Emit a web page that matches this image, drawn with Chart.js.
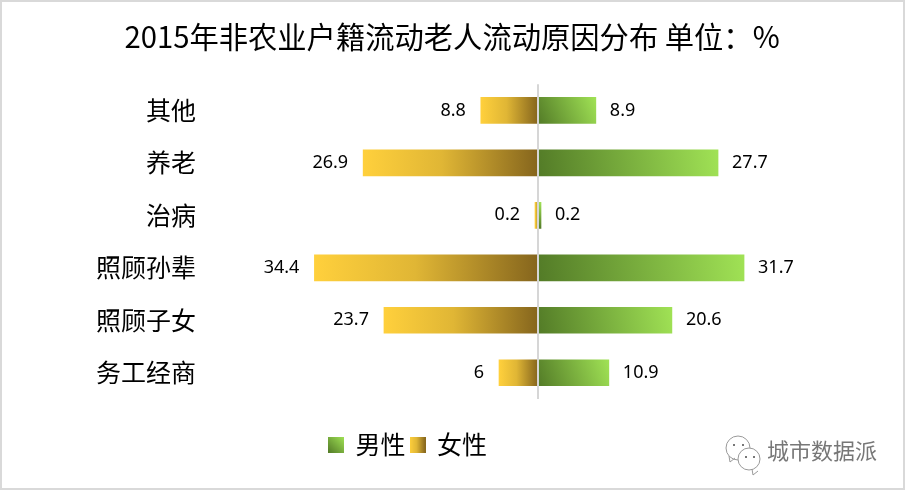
<!DOCTYPE html>
<html>
<head>
<meta charset="utf-8">
<script src="https://cdn.jsdelivr.net/npm/chart.js@4"></script>
<style>
  html, body { margin: 0; padding: 0; background: #fff; }
  canvas { display: block; }
</style>
</head>
<body>
<canvas id="chart" width="905" height="490"></canvas>
<script>
const categories = ["其他", "养老", "治病", "照顾孙辈", "照顾子女", "务工经商"];
const maleValues = [8.9, 27.7, 0.2, 31.7, 20.6, 10.9];
const femaleValues = [8.8, 26.9, 0.2, 34.4, 23.7, 6];
const seriesNames = ["男性", "女性"];
const titleText = "2015年非农业户籍流动老人流动原因分布 单位：%";
const watermarkText = "城市数据派";

const CJK = '"Noto Sans CJK SC", sans-serif';

function maleGradient(ctx, x0, y0, x1, y1) {
  const g = ctx.createLinearGradient(x0, y0, x1, y1);
  g.addColorStop(0, "#537b27");
  g.addColorStop(1, "#a0e255");
  return g;
}

function femaleGradient(ctx, x0, x1) {
  const g = ctx.createLinearGradient(x0, 0, x1, 0);
  g.addColorStop(0, "#ffd03c");
  g.addColorStop(0.45, "#e0b635");
  g.addColorStop(1, "#85651d");
  return g;
}

// legend swatches, drawn once on their own little canvases
function swatch(kind) {
  const c = document.createElement("canvas");
  c.width = 16;
  c.height = 16;
  const x = c.getContext("2d");
  x.fillStyle = kind === "male" ? maleGradient(x, 0, 16, 16, 0) : femaleGradient(x, 0, 16);
  x.fillRect(0, 0, 16, 16);
  return c;
}

function barFill(kind) {
  return function (c) {
    const fallback = kind === "male" ? "#a0e255" : "#ffd03c";
    if (c.type !== "data" || !c.chart.chartArea) return fallback;
    const { ctx, scales } = c.chart;
    const zero = scales.x.getPixelForValue(0);
    const end = scales.x.getPixelForValue(c.raw);
    const mid = scales.y.getPixelForValue(c.dataIndex);
    if (![zero, end, mid].every(Number.isFinite)) return fallback;
    if (kind === "male") return maleGradient(ctx, zero, mid + 13, Math.max(end, zero + 3), mid - 13);
    return femaleGradient(ctx, Math.min(end, zero - 3), zero);
  };
}

const pageFrame = {
  id: "pageFrame",
  beforeDraw(chart) {
    const { ctx, width, height } = chart;
    ctx.save();
    ctx.fillStyle = "#fff";
    ctx.fillRect(0, 0, width, height);
    ctx.strokeStyle = "#d9d9d9";
    ctx.lineWidth = 2;
    ctx.strokeRect(1, 1, width - 2, height - 2);
    ctx.restore();
  }
};

// title is centred on the page, the legend sits left of centre in the original
const blockShift = {
  id: "blockShift",
  afterLayout(chart) {
    const lg = chart.legend;
    lg.left -= 30;
    lg.right -= 30;
    lg.top += 28;
    lg.bottom += 28;
    chart.titleBlock.left += 14;
    chart.titleBlock.right += 14;
  }
};

// value labels outside the bar ends, always shown as positive numbers
const barValues = {
  id: "barValues",
  afterDatasetsDraw(chart) {
    const { ctx } = chart;
    ctx.save();
    ctx.font = '18px "Noto Sans", sans-serif';
    ctx.fillStyle = "#000";
    ctx.textBaseline = "middle";
    chart.getDatasetMeta(0).data.forEach((bar, i) => {
      ctx.textAlign = "left";
      ctx.fillText(String(maleValues[i]), bar.x + 14, bar.y);
    });
    chart.getDatasetMeta(1).data.forEach((bar, i) => {
      ctx.textAlign = "right";
      ctx.fillText(String(femaleValues[i]), bar.x - 15, bar.y);
    });
    ctx.restore();
  }
};

function bubble(ctx, cx, cy, r, tailX, tailY) {
  ctx.beginPath();
  ctx.arc(cx, cy, r, 0, Math.PI * 2);
  ctx.moveTo(tailX, tailY);
  ctx.lineTo(tailX + 1, tailY + 6);
  ctx.lineTo(tailX + 6, tailY + 2);
  ctx.stroke();
}

const watermark = {
  id: "watermark",
  afterDraw(chart) {
    const { ctx } = chart;
    ctx.save();
    ctx.strokeStyle = "#9a9a9a";
    ctx.lineWidth = 1;
    bubble(ctx, 738, 448, 12, 729, 456);
    ctx.fillStyle = "#fff";
    ctx.beginPath();
    ctx.arc(749, 459, 11, 0, Math.PI * 2);
    ctx.fill();
    bubble(ctx, 749, 459, 11, 752, 469);
    ctx.fillStyle = "#777";
    [[733, 444], [742, 444], [745, 456], [753, 456]].forEach(([x, y]) => {
      ctx.fillRect(x, y, 2, 2);
    });
    ctx.font = "22px " + CJK;
    ctx.textAlign = "left";
    ctx.textBaseline = "middle";
    ctx.fillStyle = "#777";
    ctx.fillText(watermarkText, 767, 451);
    ctx.restore();
  }
};

new Chart(document.getElementById("chart"), {
  type: "bar",
  data: {
    labels: categories,
    datasets: [
      {
        label: seriesNames[0],
        data: maleValues,
        backgroundColor: barFill("male"),
        pointStyle: swatch("male"),
        barThickness: 26,
        minBarLength: 3
      },
      {
        label: seriesNames[1],
        data: femaleValues.map(v => -v),
        backgroundColor: barFill("female"),
        pointStyle: swatch("female"),
        barThickness: 26,
        minBarLength: 3
      }
    ]
  },
  options: {
    indexAxis: "y",
    responsive: false,
    animation: false,
    layout: { padding: { left: 0, right: 29, top: 19, bottom: 51 } },
    scales: {
      x: {
        stacked: true,
        min: -52,
        max: 52,
        ticks: { display: false, stepSize: 52 },
        border: { display: false },
        grid: {
          z: 1,
          drawTicks: false,
          color: c => (c.tick && c.tick.value === 0 ? "#d6d6d6" : "rgba(0,0,0,0)"),
          lineWidth: 2
        }
      },
      y: {
        stacked: true,
        afterFit(scale) { scale.width = 200; },
        ticks: {
          color: "#000",
          padding: 4,
          font: { family: CJK, size: 25 }
        },
        border: { display: false },
        grid: { display: false, drawTicks: false }
      }
    },
    plugins: {
      title: {
        display: true,
        text: titleText,
        color: "#000",
        font: { family: CJK, size: 29.3, weight: "normal" },
        padding: { top: 0, bottom: 30 }
      },
      legend: {
        position: "bottom",
        labels: {
          usePointStyle: true,
          pointStyleWidth: 14,
          color: "#000",
          font: { family: CJK, size: 25 },
          padding: 5
        }
      },
      tooltip: { enabled: false }
    }
  },
  plugins: [pageFrame, blockShift, barValues, watermark]
});
</script>
</body>
</html>
